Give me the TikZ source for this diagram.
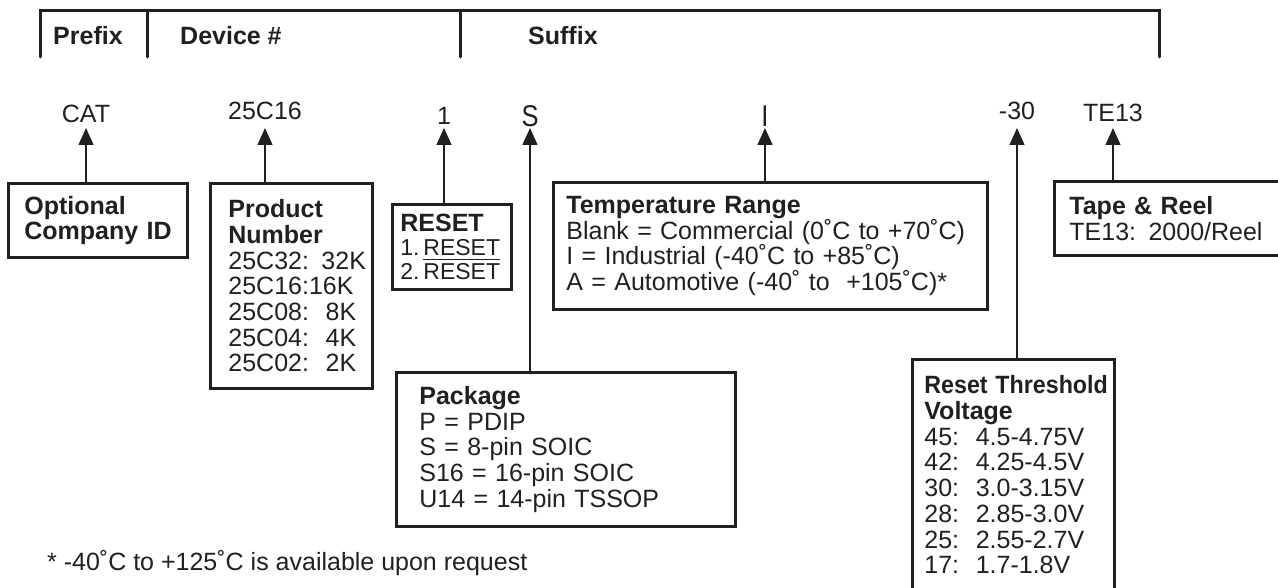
\documentclass[tikz,border=0pt]{standalone}
\usepackage{amsmath}
\usepackage{graphicx}
\usepackage{fontspec}
\setmainfont{Liberation Sans}
\usepackage{tkz-euclide}
\usetikzlibrary{arrows.meta}
\definecolor{ink}{RGB}{35,31,32}
\tikzset{
	headrule/.style={color=ink,line width=3pt},
	headlabel/.style={anchor=base west,inner sep=0pt,font=\fontsize{25}{25}\selectfont\bfseries},
	partcode/.style={anchor=base,inner sep=0pt,font=\fontsize{25}{25}\selectfont},
	infobox/.style={draw=ink,line width=2.8pt,anchor=north west,inner sep=0pt,align=left,font=\fontsize{25}{25.7}\selectfont},
	pointer/.style={draw=ink,line width=1.5pt,-{Triangle[length=17pt,width=15pt]}}
}

\begin{document}
\begin{tikzpicture}[x=1pt,y=-1pt,color=ink]
		\useasboundingbox (0,0) rectangle (1278,588);
		\tkzDefPoint(40,57){h_{1}}\tkzDefPoint(40,11){h_{2}}
		\tkzDefPoint(1159,11){h_{3}}\tkzDefPoint(1159,57){h_{4}}
		\tkzDefPoint(147,11){d_{1}}\tkzDefPoint(147,57){d_{2}}
		\tkzDefPoint(460,11){d_{3}}\tkzDefPoint(460,57){d_{4}}
		\tkzDrawPolySeg[headrule](h_{1},h_{2},h_{3},h_{4})
		\tkzDrawSegments[headrule](d_{1},d_{2} d_{3},d_{4})
		\node[headlabel] (prefix) at (53,45) {Prefix};
		\node[headlabel] (device) at (180,45) {Device \#};
		\node[headlabel] (suffix) at (528,45) {Suffix};
		\coordinate (tips) at (0,128);
		\node[partcode] (cat) at (86,123) {CAT};
		\node[partcode] (num) at (265,120) {25C16};
		\node[partcode] (rst) at (444,125) {1};
		\node[partcode,font=\fontsize{30}{30}\selectfont] (pkg) at (530,127) {\scalebox{0.85}[1]{S}};
		\node[partcode,font=\fontsize{30}{30}\selectfont] (tmp) at (765,127) {\scalebox{0.85}[1]{I}};
		\node[partcode] (thr) at (1017,120) {-30};
		\node[partcode] (tr) at (1113,122) {TE13};
		\node[infobox,text width=179pt,minimum height=74pt,execute at begin node={\leftskip=16pt}] (idbox) at (7,182)
			{\textbf{Optional}\\\textbf{Company ID}};
		\node[infobox,text width=162pt,minimum height=205pt,execute at begin node={\leftskip=18pt}] (pnbox) at (209,182)
			{\textbf{Product}\\\textbf{Number}\\25C32: 32K\\25C16:16K\\25C08:\ \ 8K\\25C04:\ \ 4K\\25C02:\ \ 2K};
		\node[infobox,text width=119pt,minimum height=85pt,font=\fontsize{23}{24}\selectfont,execute at begin node={\leftskip=8pt}] (rstbox) at (391,203)
			{{\fontsize{25}{24}\selectfont\bfseries RESET}\\1.\,RESET\\2.\,$\overline{\mbox{RESET}}$};
		\node[infobox,text width=339pt,minimum height=154pt,execute at begin node={\leftskip=23pt}] (pkgbox) at (395,371)
			{\textbf{Package}\\P = PDIP\\S = 8-pin SOIC\\S16 = 16-pin SOIC\\U14 = 14-pin TSSOP};
		\node[infobox,text width=434pt,minimum height=127pt,execute at begin node={\leftskip=13pt}] (tmpbox) at (552,181)
			{\textbf{Temperature Range}\\Blank = Commercial (0˚C to +70˚C)\\I = Industrial (-40˚C to +85˚C)\\A = Automotive (-40˚ to\ \ +105˚C)*};
		\node[infobox,text width=202pt,minimum height=231pt,execute at begin node={\leftskip=12pt}] (thrbox) at (911,358)
			{\textbf{\scalebox{0.93}[1]{Reset Threshold}}\\\textbf{Voltage}\\45:\ \ 4.5-4.75V\\42:\ \ 4.25-4.5V\\30:\ \ 3.0-3.15V\\28:\ \ 2.85-3.0V\\25:\ \ 2.55-2.7V\\17:\ \ 1.7-1.8V};
		\node[infobox,text width=225pt,minimum height=74pt,execute at begin node={\leftskip=15pt}] (trbox) at (1053,180)
			{\textbf{Tape \& Reel}\\TE13: 2000/Reel};
		\draw[pointer] (idbox.north -| cat) -- (cat |- tips);
		\draw[pointer] (pnbox.north -| num) -- (num |- tips);
		\draw[pointer] (rstbox.north -| rst) -- (rst |- tips);
		\draw[pointer] (pkgbox.north -| pkg) -- (pkg |- tips);
		\draw[pointer] (tmpbox.north -| tmp) -- (tmp |- tips);
		\draw[pointer] (thrbox.north -| thr) -- (thr |- tips);
		\draw[pointer] (trbox.north -| tr) -- (tr |- tips);
		\node[anchor=base west,inner sep=0pt,font=\fontsize{25}{25}\selectfont] (note) at (47,570)
			{* -40˚C to +125˚C is available upon request};
	\end{tikzpicture}
\end{document}
